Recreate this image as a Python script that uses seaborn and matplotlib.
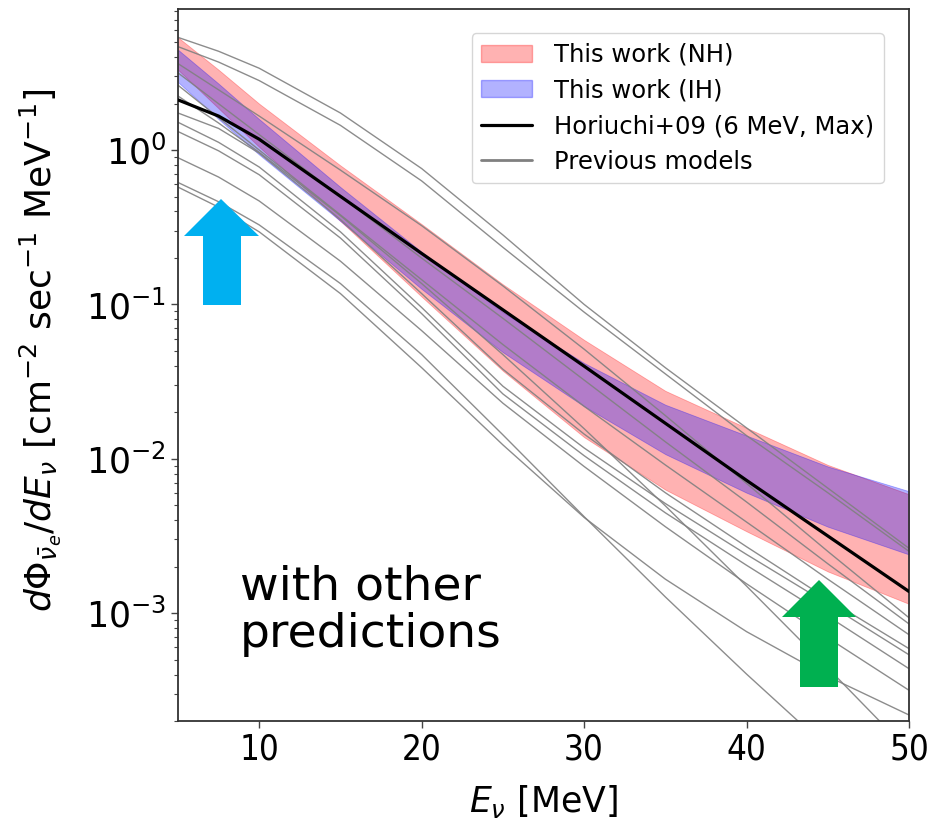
import numpy as np
import pandas as pd
import matplotlib
matplotlib.use("Agg")
import matplotlib.pyplot as plt
from matplotlib.patches import Polygon, Patch
from matplotlib.lines import Line2D
import seaborn as sns

# ---------------- data (log10 of flux) ----------------
energy = [5, 7.5, 10, 15, 20, 25, 30, 35, 40, 45, 50]

log_horiuchi = [0.325, 0.22, 0.07, -0.30, -0.67, -1.035, -1.40, -1.77, -2.14, -2.50, -2.86]

log_nh_upper = [0.73, 0.52, 0.30, -0.10, -0.48, -0.87, -1.23, -1.56, -1.80, -2.04, -2.23]
log_nh_lower = [0.52, 0.27, 0.02, -0.46, -0.95, -1.43, -1.86, -2.20, -2.47, -2.73, -2.94]
log_ih_upper = [0.65, 0.43, 0.20, -0.24, -0.66, -1.05, -1.38, -1.65, -1.85, -2.05, -2.21]
log_ih_lower = [0.44, 0.20, -0.03, -0.46, -0.90, -1.31, -1.66, -1.97, -2.22, -2.44, -2.62]

prev_model_a = [0.73, 0.64, 0.53, 0.24, -0.12, -0.55, -1.00, -1.41, -1.80, -2.19, -2.58]
prev_model_b = [0.67, 0.57, 0.45, 0.16, -0.20, -0.63, -1.05, -1.45, -1.85, -2.22, -2.60]
prev_model_c = [0.56, 0.39, 0.22, -0.13, -0.49, -0.88, -1.29, -1.72, -2.16, -2.60, -3.03]
prev_model_d = [0.50, 0.30, 0.10, -0.30, -0.70, -1.09, -1.49, -1.89, -2.28, -2.68, -3.07]
prev_model_e = [0.42, 0.21, 0.00, -0.42, -0.84, -1.26, -1.66, -2.04, -2.41, -2.78, -3.14]
prev_model_f = [0.24, 0.14, -0.02, -0.45, -0.93, -1.42, -1.84, -2.22, -2.57, -2.91, -3.23]
prev_model_g = [0.18, 0.05, -0.11, -0.53, -1.02, -1.53, -1.93, -2.29, -2.62, -2.94, -3.27]
prev_model_h = [0.12, -0.005, -0.16, -0.57, -1.06, -1.58, -1.98, -2.35, -2.69, -3.02, -3.36]
prev_model_i = [-0.05, -0.175, -0.33, -0.72, -1.17, -1.64, -2.05, -2.44, -2.81, -3.16, -3.50]
prev_model_j = [0.35, 0.175, -0.015, -0.425, -0.865, -1.325, -1.805, -2.305, -2.825, -3.355, -3.895]
prev_model_x = [-0.21, -0.335, -0.485, -0.865, -1.325, -1.845, -2.375, -2.895, -3.395, -3.875, -4.345]
prev_model_y = [-0.24, -0.37, -0.53, -0.93, -1.41, -1.91, -2.38, -2.78, -3.12, -3.41, -3.66]

prev_models = [prev_model_a, prev_model_b, prev_model_c, prev_model_d, prev_model_e,
               prev_model_f, prev_model_g, prev_model_h, prev_model_i, prev_model_j,
               prev_model_x, prev_model_y]

x_ticks = [10, 20, 30, 40, 50]
legend_labels = ["This work (NH)", "This work (IH)", "Horiuchi+09 (6 MeV, Max)", "Previous models"]

# ---------------- figure ----------------
sns.set_theme(style="ticks")
plt.rcParams["font.family"] = ["DejaVu Sans"]
plt.rcParams["mathtext.fontset"] = "dejavusans"
plt.rcParams["text.color"] = "black"
plt.rcParams["axes.labelcolor"] = "black"
plt.rcParams["xtick.color"] = "black"
plt.rcParams["ytick.color"] = "black"

W, H = 938, 822
fig = plt.figure(figsize=(W / 100, H / 100), dpi=100)
ax = fig.add_axes([178 / W, 1 - 721 / H, (909 - 178) / W, (721 - 9) / H])

E = np.array(energy)
to_flux = lambda v: 10 ** np.array(v)

ax.fill_between(E, to_flux(log_nh_lower), to_flux(log_nh_upper), color="red", alpha=0.3,
                linewidth=0.6, zorder=1)
ax.fill_between(E, to_flux(log_ih_lower), to_flux(log_ih_upper), color="blue", alpha=0.3,
                linewidth=0.6, zorder=1.1)

rows = []
for i, m in enumerate(prev_models):
    for e, v in zip(energy, m):
        rows.append({"E": e, "flux": 10 ** v, "model": f"m{i}"})
df_prev = pd.DataFrame(rows)
sns.lineplot(data=df_prev, x="E", y="flux", units="model", estimator=None, sort=False,
             color="gray", linewidth=1.0, alpha=0.9, ax=ax, legend=False, zorder=2)

df_h = pd.DataFrame({"E": energy, "flux": to_flux(log_horiuchi)})
sns.lineplot(data=df_h, x="E", y="flux", color="black", linewidth=2.3, ax=ax, legend=False, zorder=3)

ax.set_yscale("log")
ax.set_xlim(5, 50)
ax.set_ylim(2e-4, 8.2)
ax.set_xticks(x_ticks)
ax.tick_params(axis="both", which="major", labelsize=25, length=5, width=1.0, color="#444444")
ax.tick_params(axis="y", which="minor", length=3, width=0.8, color="#444444")
for lab in ax.get_xticklabels():
    lab.set_fontstretch("condensed")
for s in ax.spines.values():
    s.set_color("#333333")
    s.set_linewidth(1.3)

ax.set_xlabel(r"$E_{\nu}$ [MeV]", fontsize=25, labelpad=12)
ax.set_ylabel(r"$d\Phi_{\bar{\nu}_e}/dE_{\nu}$ [cm$^{-2}$ sec$^{-1}$ MeV$^{-1}$]", fontsize=26)
ax.yaxis.set_label_coords(-0.157, (721 - 350) / 712)

handles = [Patch(facecolor="red", edgecolor="red", alpha=0.3),
           Patch(facecolor="blue", edgecolor="blue", alpha=0.3),
           Line2D([], [], color="black", linewidth=2.3),
           Line2D([], [], color="gray", linewidth=2.0)]
leg = ax.legend(handles, legend_labels, loc="upper right", fontsize=17.5, frameon=True,
                bbox_to_anchor=(1 - 25 / 731, 1 - 24 / 712), borderaxespad=0,
                handlelength=2.1, handletextpad=0.9, labelspacing=0.48, borderpad=0.4)
leg.get_frame().set_edgecolor("#cccccc")

# ---------------- annotations ----------------
def arrow(tip_x, tip_y, head_l, head_r, shaft_l, shaft_r, head_base, bottom, color):
    pts = [(tip_x, tip_y), (head_r, head_base), (shaft_r, head_base), (shaft_r, bottom),
           (shaft_l, bottom), (shaft_l, head_base), (head_l, head_base)]
    pts = [(x / W, 1 - y / H) for x, y in pts]
    fig.patches.append(Polygon(pts, closed=True, transform=fig.transFigure,
                               facecolor=color, edgecolor="none", zorder=10))

arrow(221, 199, 184, 259, 203, 241, 236, 305, "#00B0F0")
arrow(819, 580, 782, 856, 800, 838, 617, 687, "#00B050")

fig.text(240 / W, 1 - 565 / H, "with other\npredictions", fontsize=34, va="top", ha="left",
         linespacing=1.05, color="black")

fig.savefig("out.png", dpi=100)
